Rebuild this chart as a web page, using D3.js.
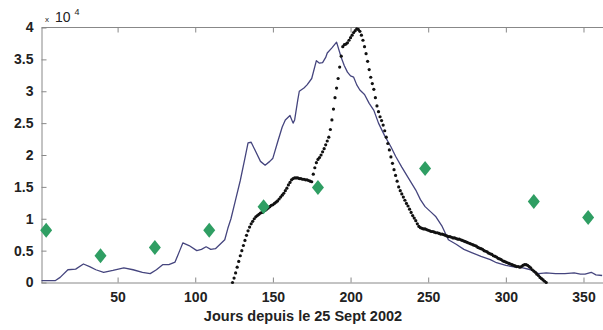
<!DOCTYPE html>
<html>
<head>
<meta charset="utf-8">
<script src="https://cdn.jsdelivr.net/npm/d3@7"></script>
<style>
body { margin: 0; background: #fff; }
svg text { font-family: "Liberation Sans", Arial, sans-serif; fill: #222; }
.tick-label { font-size: 14px; font-weight: bold; }
</style>
</head>
<body>
<div id="chart"></div>
<script>
var width = 603, height = 330;

// blue line (days, value in units of 10^4)
var blueDays = [1, 10, 13, 18, 23, 28, 32, 36, 41, 47, 54, 60, 66, 71, 75, 79, 83, 87, 90, 92, 96, 101, 104, 107, 110, 113, 116, 119, 121, 123, 126, 129, 132, 134, 136, 139, 142, 145, 148, 150, 153, 156, 158, 161, 163, 164, 166, 167, 170, 172, 175, 178, 180, 182, 184, 185, 188, 191, 194, 196, 198, 200, 202, 204, 206, 209, 212, 215, 218, 222, 226, 229, 233, 237, 242, 245, 248, 252, 255, 259, 263, 268, 273, 278, 284, 290, 294, 300, 306, 311, 316, 321, 326, 332, 338, 344, 348, 351, 355, 358, 362];
var blueVals = [0.03, 0.03, 0.08, 0.2, 0.21, 0.29, 0.25, 0.2, 0.16, 0.19, 0.23, 0.2, 0.16, 0.14, 0.2, 0.28, 0.28, 0.32, 0.5, 0.62, 0.58, 0.5, 0.52, 0.56, 0.52, 0.53, 0.6, 0.67, 0.85, 1.0, 1.3, 1.6, 1.95, 2.19, 2.2, 2.05, 1.9, 1.84, 1.9, 1.95, 2.2, 2.44, 2.55, 2.62, 2.5, 2.55, 2.86, 3.0, 3.05, 3.1, 3.2, 3.48, 3.44, 3.45, 3.53, 3.6, 3.68, 3.77, 3.53, 3.4, 3.3, 3.24, 3.22, 3.1, 3.02, 2.95, 2.81, 2.7, 2.5, 2.3, 2.13, 1.98, 1.81, 1.65, 1.45, 1.3, 1.19, 1.1, 1.03, 0.88, 0.67, 0.6, 0.52, 0.47, 0.41, 0.36, 0.31, 0.27, 0.24, 0.23, 0.2, 0.14, 0.15, 0.14, 0.14, 0.15, 0.13, 0.13, 0.16, 0.12, 0.11];

// black dotted series, one dot per day from day 124
var dotDays = d3.range(124, 327);
var dotVals = [0.00, 0.07, 0.15, 0.24, 0.33, 0.42, 0.50, 0.58, 0.66, 0.74,
  0.81, 0.87, 0.92, 0.96, 1.00, 1.03, 1.05, 1.07, 1.09, 1.10,
  1.12, 1.13, 1.15, 1.17, 1.19, 1.21, 1.22, 1.24, 1.26, 1.28,
  1.31, 1.34, 1.37, 1.40, 1.44, 1.48, 1.53, 1.57, 1.61, 1.63,
  1.64, 1.64, 1.64, 1.63, 1.63, 1.62, 1.62, 1.61, 1.61, 1.60,
  1.59, 1.58, 1.70, 1.80, 1.88, 1.93, 1.96, 2.00, 2.05, 2.10,
  2.16, 2.22, 2.28, 2.40, 2.55, 2.72, 2.90, 3.05, 3.20, 3.38,
  3.55, 3.70, 3.73, 3.74, 3.76, 3.80, 3.84, 3.88, 3.92, 3.95,
  3.98, 3.97, 3.94, 3.88, 3.80, 3.70, 3.59, 3.47, 3.34, 3.22,
  3.12, 3.03, 2.90, 2.77, 2.68, 2.60, 2.54, 2.47, 2.38, 2.28,
  2.18, 2.08, 1.97, 1.87, 1.77, 1.68, 1.59, 1.50, 1.44, 1.39,
  1.34, 1.29, 1.24, 1.20, 1.15, 1.10, 1.05, 1.01, 0.97, 0.92,
  0.88, 0.86, 0.85, 0.84, 0.84, 0.83, 0.82, 0.81, 0.80, 0.80,
  0.79, 0.78, 0.78, 0.77, 0.76, 0.76, 0.75, 0.74, 0.73, 0.72,
  0.72, 0.71, 0.70, 0.70, 0.69, 0.68, 0.68, 0.67, 0.66, 0.65,
  0.64, 0.63, 0.62, 0.61, 0.60, 0.59, 0.58, 0.57, 0.55, 0.54,
  0.53, 0.52, 0.50, 0.49, 0.48, 0.46, 0.45, 0.44, 0.42, 0.41,
  0.40, 0.38, 0.37, 0.36, 0.34, 0.33, 0.32, 0.31, 0.30, 0.29,
  0.28, 0.27, 0.26, 0.25, 0.25, 0.24, 0.25, 0.27, 0.28, 0.28,
  0.27, 0.25, 0.23, 0.20, 0.18, 0.16, 0.13, 0.11, 0.08, 0.06,
  0.04, 0.02, 0.00];

// green diamonds
var diaDays = [4, 39, 74, 109, 144, 179, 248, 318, 353];
var diaVals = [0.82, 0.42, 0.55, 0.82, 1.19, 1.49, 1.79, 1.27, 1.02];

var xTicks = [50, 100, 150, 200, 250, 300, 350];
var yTicks = [0, 0.5, 1, 1.5, 2, 2.5, 3, 3.5, 4];
var xLabel = "Jours depuis le 25 Sept 2002";

var plot = {left: 41.5, top: 27.5, bottom: 282.5};

var x = d3.scaleLinear().domain([1, 365]).range([plot.left, plot.left + 364 * 1.553]);
var y = d3.scaleLinear().domain([0, 4]).range([plot.bottom, plot.top]);

var svg = d3.select("#chart").append("svg")
  .attr("width", width)
  .attr("height", height);

var clip = svg.append("defs").append("clipPath").attr("id", "plotclip")
  .append("rect")
  .attr("x", plot.left - 8).attr("y", plot.top - 8)
  .attr("width", width).attr("height", plot.bottom - plot.top + 16);

// axes (box style, ticks pointing inward)
var axisColor = "#888";
var bottomAxis = svg.append("g")
  .attr("transform", "translate(0," + plot.bottom + ")")
  .call(d3.axisBottom(x).tickValues(xTicks).tickSizeInner(-5).tickSizeOuter(0).tickPadding(10));
var topAxis = svg.append("g")
  .attr("transform", "translate(0," + plot.top + ")")
  .call(d3.axisTop(x).tickValues(xTicks).tickSizeInner(-5).tickSizeOuter(0).tickFormat(""));
var leftAxis = svg.append("g")
  .attr("transform", "translate(" + plot.left + ",0)")
  .call(d3.axisLeft(y).tickValues(yTicks).tickSizeInner(-5).tickSizeOuter(0).tickPadding(8)
    .tickFormat(function(d){ return d3.format("")(d); }));

[bottomAxis, topAxis, leftAxis].forEach(function(g){
  g.select(".domain").attr("stroke", axisColor);
  g.selectAll(".tick line").attr("stroke", axisColor);
  g.selectAll(".tick text").attr("class", "tick-label").attr("fill", "#222");
});
bottomAxis.select(".domain").attr("d", "M" + plot.left + ",0.5H" + width);
topAxis.select(".domain").attr("d", "M" + plot.left + ",0H" + width);

// scale factor label
var mult = svg.append("text").attr("x", 45).attr("y", 22);
mult.append("tspan").text("x").style("font-size", "8px");
mult.append("tspan").text(" 10").attr("dx", 2).style("font-size", "14px");
mult.append("tspan").text("4").attr("dx", 4).attr("dy", -7).style("font-size", "9px");

var g = svg.append("g").attr("clip-path", "url(#plotclip)");

// blue line
var line = d3.line()
  .x(function(d){ return x(d[0]); })
  .y(function(d){ return y(d[1]); });

g.append("path")
  .datum(d3.zip(blueDays, blueVals))
  .attr("d", line)
  .attr("fill", "none")
  .attr("stroke", "#45457e")
  .attr("stroke-width", 1.3)
  .attr("stroke-linejoin", "round");

// black dots
g.selectAll(".dot")
  .data(d3.zip(dotDays, dotVals))
  .enter().append("circle")
  .attr("class", "dot")
  .attr("cx", function(d){ return x(d[0]); })
  .attr("cy", function(d){ return y(d[1]); })
  .attr("r", 1.6)
  .attr("fill", "#111");

// green diamonds
var dw = 6, dh = 7.5;
g.selectAll(".dia")
  .data(d3.zip(diaDays, diaVals))
  .enter().append("path")
  .attr("class", "dia")
  .attr("transform", function(d){ return "translate(" + x(d[0]) + "," + y(d[1]) + ")"; })
  .attr("d", "M0," + (-dh) + "L" + dw + ",0L0," + dh + "L" + (-dw) + ",0Z")
  .attr("fill", "#2f9e63");

// x label
svg.append("text")
  .attr("x", 303)
  .attr("y", 321)
  .attr("text-anchor", "middle")
  .style("font-size", "14.5px")
  .style("font-weight", "bold")
  .text(xLabel);
</script>
</body>
</html>
